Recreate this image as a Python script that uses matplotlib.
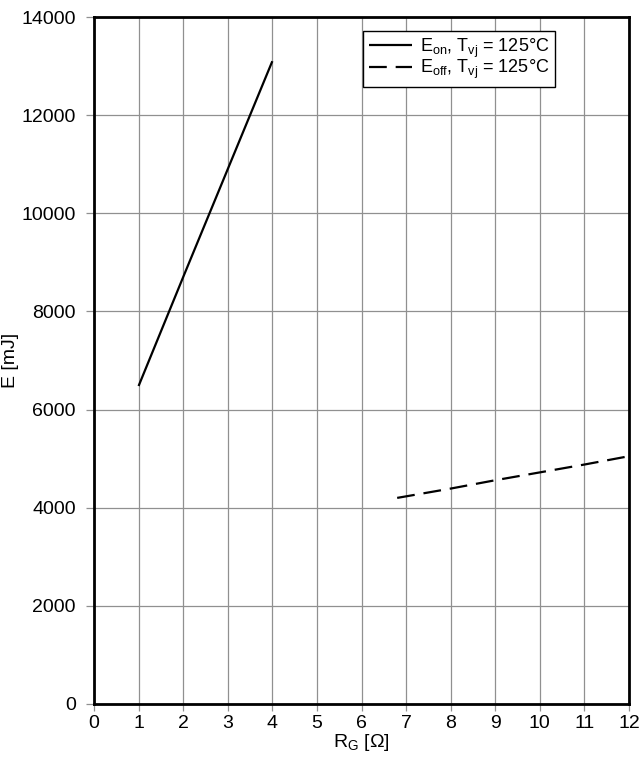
import matplotlib
matplotlib.use("Agg")
import matplotlib.pyplot as plt

plt.rcParams['font.family'] = ['Liberation Sans', 'DejaVu Sans']
plt.rcParams['mathtext.fontset'] = 'custom'
plt.rcParams['mathtext.rm'] = 'Liberation Sans'
plt.rcParams['mathtext.it'] = 'Liberation Sans'

# Data
rg_on = [1, 2, 3, 4]
e_on = [6480, 8700, 10900, 13100]
rg_off = [6.8, 8, 9, 10, 11, 12]
e_off = [4200, 4390, 4560, 4720, 4880, 5050]
xticks = list(range(0, 13))
yticks = list(range(0, 14001, 2000))

fig = plt.figure(figsize=(6.42, 7.6), dpi=100)
ax = fig.add_axes([0.1464, 0.0737, 0.8334, 0.9039])

ax.plot(rg_on, e_on, color='black', lw=1.6, solid_capstyle='butt',
        label=r'E$_{\rm on}$, T$_{\rm vj}$ = 125°C')
ax.plot(rg_off, e_off, color='black', lw=1.6, dashes=(8, 4),
        label=r'E$_{\rm off}$, T$_{\rm vj}$ = 125°C')

ax.set_xlim(0, 12)
ax.set_ylim(0, 14000)
ax.set_xticks(xticks)
ax.set_yticks(yticks)
ax.grid(True, color='#909090', lw=0.9)
ax.set_axisbelow(True)
for s in ax.spines.values():
    s.set_linewidth(2)
    s.set_color('black')
ax.tick_params(direction='out', length=5, width=0.9, color='#909090',
               labelsize=14)
ax.tick_params(axis='x', pad=3)
ax.tick_params(axis='y', length=6, pad=7)

ax.set_xlabel(r'R$_{\rm G}$ [Ω]', fontsize=14, labelpad=0)
ax.set_ylabel('E [mJ]', fontsize=14, labelpad=2)

leg = ax.legend(loc='upper right', bbox_to_anchor=(0.862, 0.980), fontsize=13,
                frameon=True, fancybox=False, edgecolor='black', framealpha=1,
                handlelength=2.4, borderpad=0.32, labelspacing=-0.08,
                handletextpad=0.45, borderaxespad=0)
leg.get_frame().set_linewidth(1)

fig.savefig('out.png', dpi=100)
